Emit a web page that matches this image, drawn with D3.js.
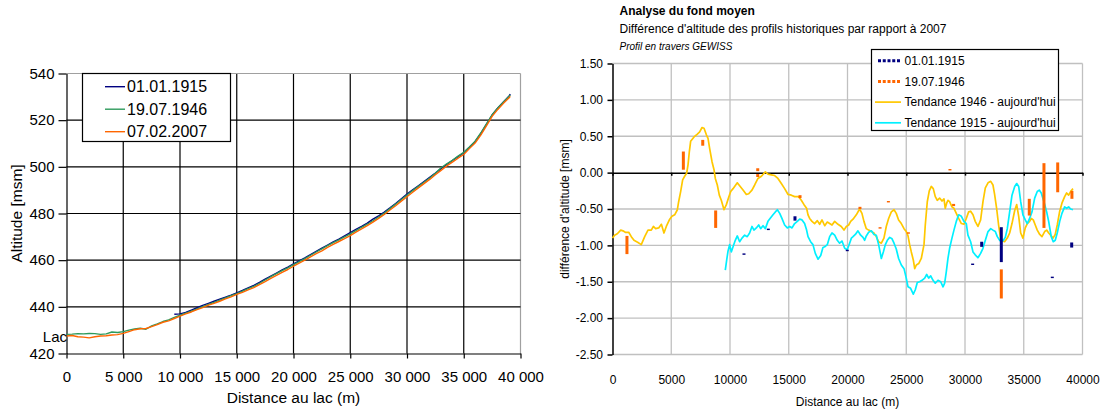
<!DOCTYPE html>
<html><head><meta charset="utf-8">
<script src="https://cdn.jsdelivr.net/npm/d3@7"></script>
<style>body{margin:0;background:#fff}svg{display:block}text{font-family:"Liberation Sans",Arial,sans-serif;fill:#000}</style>
</head><body><svg id="c" width="1101" height="409"></svg>
<script>
// ---------- LEFT CHART DATA (distance m, altitude msm) ----------
const leftXTicks = [0,5000,10000,15000,20000,25000,30000,35000,40000];
const leftYTicks = [420,440,460,480,500,520,540];
const leftLegend = ["01.01.1915","19.07.1946","07.02.2007"];
const alt1915 = [[9500,436.8],[10000,437.0],[10500,437.6],[11000,438.6],[11500,439.6],[12000,440.6],[12500,441.5],[13000,442.4],[13500,443.3],[14000,444.1],[14500,445.0],[15000,446.0],[15500,447.0],[16000,448.1],[16500,449.2],[17000,450.5],[17500,451.9],[18000,453.2],[18500,454.5],[19000,455.8],[19500,457.0],[20000,458.4],[20500,459.7],[21000,461.0],[21500,462.4],[22000,463.8],[22500,465.2],[23000,466.5],[23500,467.8],[24000,469.0],[24500,470.4],[25000,471.8],[25500,473.2],[26000,474.5],[26500,475.9],[27000,477.6],[27500,479.0],[28000,480.6],[28500,482.4],[29000,484.3],[29500,486.3],[30000,488.3],[30500,490.1],[31000,491.9],[31500,493.7],[32000,495.5],[32500,497.3],[33000,499.2],[33500,501.0],[34000,502.7],[34500,504.4],[35000,506.0],[35500,508.4],[36000,510.8],[36500,514.2],[37000,518.2],[37500,522.2],[38000,525.2],[38500,527.8],[39000,530.4],[39100,531.2]];
const alt1946 = [[0,428.2],[500,428.3],[1000,428.5],[1500,428.4],[2000,428.6],[2500,428.5],[3000,428.2],[3500,428.4],[4000,429.2],[4500,429.0],[5000,429.4],[5500,430.0],[6000,430.5],[6500,430.8],[7000,430.4],[7500,431.8],[8000,432.7],[8500,433.7],[9000,434.4],[9500,435.5],[10000,436.4],[10500,437.3],[11000,438.2],[11500,439.1],[12000,440.1],[12500,441.0],[13000,441.9],[13500,442.9],[14000,443.8],[14500,444.8],[15000,445.7],[15500,446.7],[16000,447.8],[16500,448.8],[17000,450.1],[17500,451.5],[18000,452.9],[18500,454.2],[19000,455.5],[19500,456.7],[20000,458.1],[20500,459.4],[21000,460.7],[21500,462.1],[22000,463.5],[22500,464.8],[23000,466.2],[23500,467.5],[24000,468.7],[24500,470.0],[25000,471.3],[25500,472.7],[26000,474.1],[26500,475.4],[27000,476.9],[27500,478.5],[28000,480.2],[28500,482.1],[29000,484.0],[29500,486.0],[30000,487.9],[30500,489.8],[31000,491.6],[31500,493.4],[32000,495.2],[32500,497.2],[33000,499.6],[33500,501.3],[34000,502.8],[34500,504.6],[35000,506.2],[35500,508.5],[36000,511.0],[36500,514.5],[37000,518.4],[37500,522.3],[38000,525.2],[38500,527.8],[39000,530.2],[39100,530.8]];
const alt2007 = [[0,427.5],[500,427.7],[1000,427.2],[1500,427.0],[2000,426.7],[2500,427.2],[3000,427.5],[3500,427.6],[4000,427.9],[4500,428.1],[5000,428.6],[5500,429.4],[6000,430.2],[6500,430.6],[7000,430.7],[7500,431.5],[8000,432.4],[8500,433.4],[9000,434.0],[9500,435.0],[10000,436.0],[10500,437.0],[11000,437.8],[11500,438.8],[12000,439.7],[12500,440.7],[13000,441.5],[13500,442.4],[14000,443.4],[14500,444.3],[15000,445.3],[15500,446.2],[16000,447.3],[16500,448.2],[17000,449.5],[17500,450.8],[18000,452.2],[18500,453.5],[19000,454.8],[19500,456.0],[20000,457.4],[20500,458.7],[21000,460.0],[21500,461.4],[22000,462.8],[22500,464.0],[23000,465.5],[23500,466.8],[24000,468.0],[24500,469.2],[25000,470.5],[25500,472.0],[26000,473.4],[26500,474.8],[27000,476.3],[27500,477.9],[28000,479.6],[28500,481.5],[29000,483.3],[29500,485.3],[30000,487.2],[30500,489.1],[31000,491.0],[31500,492.8],[32000,494.6],[32500,496.6],[33000,498.5],[33500,500.4],[34000,502.0],[34500,503.7],[35000,505.3],[35500,507.8],[36000,510.2],[36500,513.6],[37000,517.6],[37500,521.6],[38000,524.6],[38500,527.2],[39000,529.6],[39100,530.2]];

// ---------- RIGHT CHART DATA (distance m, difference m) ----------
const rightXTicks = [0,5000,10000,15000,20000,25000,30000,35000,40000];
const rightYTicks = [1.5,1.0,0.5,0,-0.5,-1.0,-1.5,-2.0,-2.5];
const rightLegend = ["01.01.1915","19.07.1946","Tendance 1946 - aujourd'hui","Tendance 1915 - aujourd'hui"];
// visible fragments of the historic series: [distance, from, to]
const diff1915 = [[11190,-1.11,-1.13],[13260,-0.77,-0.79],[15530,-0.60,-0.66],[19980,-1.06,-1.08],[30650,-1.25,-1.27],[31420,-0.95,-1.02],[33090,-0.75,-1.23],[37430,-1.43,-1.45],[39080,-0.96,-1.03]];
const diff1946 = [[1230,-0.87,-1.12],[6030,0.29,0.04],[7680,0.45,0.37],[8780,-0.52,-0.76],[12360,0.06,0.02],[12360,-0.02,-0.06],[15960,-0.31,-0.35],[21060,-0.47,-0.50],[22770,-0.75,-0.77],[23480,-0.39,-0.41],[25180,-0.82,-0.84],[28720,0.03,0.05],[29030,-0.43,-0.46],[33090,-1.33,-1.73],[35470,-0.36,-0.59],[36720,0.13,-0.76],[37890,0.14,-0.27],[39100,-0.25,-0.36]];
const trend1946 = [[0,-0.90],[180,-0.86],[410,-0.84],[700,-0.79],[890,-0.80],[1090,-0.82],[1380,-0.82],[1600,-0.88],[1830,-0.93],[2170,-0.96],[2450,-0.99],[2740,-0.88],[3020,-0.79],[3300,-0.79],[3480,-0.74],[3670,-0.77],[3930,-0.76],[4160,-0.71],[4380,-0.83],[4580,-0.74],[4870,-0.64],[5060,-0.60],[5290,-0.58],[5520,-0.51],[5630,-0.40],[5800,-0.26],[5970,-0.10],[6140,-0.05],[6310,-0.01],[6430,0.11],[6540,0.29],[6650,0.43],[6940,0.49],[7220,0.53],[7420,0.56],[7620,0.62],[7790,0.61],[7990,0.52],[8130,0.47],[8270,0.33],[8470,0.15],[8640,0.04],[8750,-0.08],[8920,-0.17],[9090,-0.31],[9260,-0.38],[9490,-0.51],[9690,-0.44],[9890,-0.34],[10060,-0.26],[10260,-0.22],[10620,-0.14],[10820,-0.18],[11110,-0.24],[11390,-0.30],[11590,-0.29],[11870,-0.24],[12100,-0.17],[12380,-0.08],[12670,-0.05],[13010,0.01],[13230,-0.02],[13520,-0.03],[13800,-0.04],[14080,-0.08],[14370,-0.15],[14650,-0.22],[14940,-0.30],[15220,-0.31],[15500,-0.33],[15840,-0.33],[16070,-0.38],[16300,-0.44],[16520,-0.49],[16640,-0.58],[16780,-0.63],[16980,-0.67],[17200,-0.70],[17430,-0.66],[17630,-0.71],[17830,-0.65],[18060,-0.73],[18280,-0.68],[18480,-0.70],[18680,-0.72],[18910,-0.67],[19190,-0.71],[19470,-0.74],[19700,-0.79],[19900,-0.74],[20100,-0.72],[20270,-0.67],[20470,-0.64],[20750,-0.58],[21030,-0.50],[21230,-0.56],[21400,-0.67],[21600,-0.77],[21800,-0.79],[22030,-0.81],[22250,-0.83],[22450,-0.88],[22650,-0.95],[22880,-0.97],[23100,-0.90],[23300,-0.74],[23500,-0.63],[23730,-0.54],[23960,-0.51],[24150,-0.56],[24350,-0.65],[24580,-0.70],[24810,-0.77],[25000,-0.81],[25150,-0.87],[25290,-0.99],[25430,-1.09],[25600,-1.20],[25720,-1.32],[25860,-1.27],[26060,-1.25],[26280,-1.18],[26510,-0.99],[26620,-0.72],[26790,-0.40],[26960,-0.25],[27130,-0.19],[27300,-0.22],[27470,-0.33],[27640,-0.38],[27840,-0.35],[28040,-0.39],[28210,-0.36],[28320,-0.49],[28440,-0.42],[28550,-0.38],[28690,-0.40],[28890,-0.47],[29060,-0.49],[29260,-0.56],[29460,-0.63],[29690,-0.70],[29910,-0.71],[30110,-0.63],[30310,-0.54],[30480,-0.53],[30680,-0.58],[30870,-0.67],[31100,-0.74],[31330,-0.65],[31530,-0.40],[31730,-0.21],[31960,-0.14],[32190,-0.12],[32380,-0.17],[32520,-0.30],[32690,-0.49],[32860,-0.72],[33030,-0.90],[33200,-0.94],[33370,-0.95],[33600,-0.90],[33800,-0.83],[34000,-0.70],[34230,-0.52],[34400,-0.44],[34570,-0.60],[34740,-0.83],[34930,-0.90],[35130,-0.76],[35300,-0.70],[35500,-0.67],[35640,-0.63],[35810,-0.65],[35980,-0.72],[36150,-0.79],[36360,-0.85],[36550,-0.88],[36780,-0.81],[36950,-0.79],[37120,-0.83],[37290,-0.86],[37490,-0.90],[37680,-0.85],[37850,-0.72],[38060,-0.53],[38250,-0.42],[38480,-0.33],[38650,-0.28],[38820,-0.31],[38990,-0.26],[39190,-0.22]];
const trend1915 = [[9600,-1.34],[9720,-1.20],[9830,-1.08],[9970,-0.99],[10110,-1.09],[10260,-1.02],[10450,-0.93],[10620,-0.87],[10820,-0.95],[11020,-0.90],[11250,-0.86],[11470,-0.88],[11670,-0.83],[11870,-0.74],[12040,-0.79],[12240,-0.76],[12440,-0.72],[12610,-0.77],[12810,-0.73],[13010,-0.77],[13230,-0.67],[13460,-0.62],[13660,-0.58],[13860,-0.54],[14030,-0.51],[14230,-0.56],[14420,-0.63],[14650,-0.72],[14880,-0.76],[15080,-0.74],[15280,-0.76],[15500,-0.70],[15730,-0.67],[15930,-0.64],[16130,-0.65],[16350,-0.70],[16520,-0.79],[16640,-0.88],[16860,-0.95],[17060,-0.99],[17260,-1.11],[17490,-1.19],[17720,-1.14],[17910,-1.03],[18060,-1.02],[18280,-0.99],[18480,-0.88],[18680,-0.83],[18910,-0.86],[19130,-0.93],[19330,-0.97],[19530,-0.94],[19760,-1.04],[19980,-1.06],[20180,-0.97],[20330,-0.90],[20470,-0.88],[20670,-0.85],[20890,-0.80],[21120,-0.86],[21320,-0.89],[21460,-0.93],[21600,-0.87],[21800,-0.82],[22030,-0.80],[22250,-0.85],[22450,-0.86],[22650,-0.99],[22880,-1.18],[23050,-1.09],[23220,-0.99],[23390,-0.93],[23590,-0.89],[23790,-0.91],[23960,-0.97],[24150,-1.05],[24350,-1.18],[24580,-1.27],[24810,-1.32],[25000,-1.45],[25150,-1.57],[25370,-1.59],[25600,-1.67],[25770,-1.61],[25940,-1.51],[26140,-1.50],[26340,-1.48],[26570,-1.45],[26740,-1.40],[26910,-1.45],[27080,-1.42],[27280,-1.48],[27470,-1.52],[27700,-1.48],[27930,-1.50],[28130,-1.57],[28270,-1.52],[28410,-1.36],[28550,-1.18],[28690,-1.04],[28890,-0.90],[29060,-0.79],[29260,-0.67],[29460,-0.58],[29690,-0.60],[29910,-0.67],[30110,-0.70],[30250,-0.86],[30480,-0.95],[30680,-1.09],[30870,-1.13],[31100,-1.17],[31330,-1.11],[31530,-1.04],[31730,-0.93],[31960,-0.81],[32190,-0.77],[32380,-0.79],[32580,-0.81],[32750,-0.88],[32950,-0.93],[33090,-0.95],[33260,-0.93],[33430,-0.89],[33600,-0.77],[33800,-0.54],[34000,-0.31],[34230,-0.19],[34400,-0.15],[34570,-0.19],[34740,-0.40],[34930,-0.58],[35130,-0.65],[35300,-0.70],[35500,-0.63],[35700,-0.54],[35930,-0.35],[36150,-0.26],[36320,-0.24],[36490,-0.28],[36720,-0.40],[36950,-0.54],[37120,-0.67],[37340,-0.88],[37510,-0.95],[37680,-0.93],[37850,-0.83],[38060,-0.67],[38250,-0.56],[38480,-0.47],[38650,-0.49],[38820,-0.47],[38990,-0.50],[39190,-0.51]];

// ---------- DRAWING ----------
const svg = d3.select("#c");
svg.append("rect").attr("width",1101).attr("height",409).attr("fill","#fff");

// ===== LEFT =====
const xL = d3.scaleLinear().domain([0,40000]).range([66.5,520.5]);
const yL = d3.scaleLinear().domain([420,540]).range([353.5,73.5]);
const gL = svg.append("g");
leftXTicks.filter(v=>v>0).forEach(v=>{
  gL.append("line").attr("x1",xL(v)).attr("x2",xL(v)).attr("y1",yL(420)).attr("y2",yL(540))
    .attr("stroke", v===40000?"#a0a0a0":"#000").attr("stroke-width",1.2);
});
leftYTicks.filter(v=>v>420).forEach(v=>{
  gL.append("line").attr("x1",xL(0)).attr("x2",xL(40000)).attr("y1",yL(v)).attr("y2",yL(v))
    .attr("stroke", v===540?"#a0a0a0":"#000").attr("stroke-width",1.2);
});
const fmtSp = d => d===0 ? "0" : d3.format(",")(d).replace(/,/g," ");
const axL = gL.append("g").attr("transform",`translate(${xL(0)},0)`)
  .call(d3.axisLeft(yL).tickValues(leftYTicks).tickSize(8).tickSizeOuter(0).tickPadding(4));
const axB = gL.append("g").attr("transform",`translate(0,${yL(420)})`)
  .call(d3.axisBottom(xL).tickValues(leftXTicks).tickSize(5).tickSizeOuter(0).tickPadding(13).tickFormat(fmtSp));
[axL,axB].forEach(a=>{
  a.selectAll("path,line").attr("stroke","#000").attr("stroke-width",1.2);
  a.selectAll("text").attr("font-size",15).attr("font-family","Liberation Sans, Arial, sans-serif");
});
const lineL = d3.line().x(d=>xL(d[0])).y(d=>yL(d[1]));
const leftColors = ["#000080","#2e9a5c","#ff6600"];
[alt1915,alt1946,alt2007].forEach((s,i)=>{
  gL.append("path").datum(s).attr("d",lineL).attr("fill","none")
    .attr("stroke",leftColors[i]).attr("stroke-width",1.4).attr("stroke-linejoin","round");
});
gL.append("text").attr("x",67).attr("y",341.5).attr("text-anchor","end").attr("font-size",15).text("Lac");
gL.append("text").attr("x",(xL(0)+xL(40000))/2).attr("y",403).attr("text-anchor","middle").attr("font-size",15.5).text("Distance au lac (m)");
gL.append("text").attr("transform",`translate(22,${(yL(420)+yL(540))/2}) rotate(-90)`).attr("text-anchor","middle").attr("font-size",15.5).text("Altitude [msm]");
// legend
const lgL = gL.append("g");
lgL.append("rect").attr("x",82.5).attr("y",73.5).attr("width",148).attr("height",68).attr("fill","#fff").attr("stroke","#000").attr("stroke-width",1.2);
leftLegend.forEach((t,i)=>{
  const cy = 86.7 + i*22.5;
  lgL.append("line").attr("x1",105).attr("x2",125).attr("y1",cy).attr("y2",cy).attr("stroke",leftColors[i]).attr("stroke-width",1.4);
  lgL.append("text").attr("x",127).attr("y",cy+5.7).attr("font-size",16).text(t);
});

// ===== RIGHT =====
const xR = d3.scaleLinear().domain([0,40000]).range([612.5,1082.5]);
const yR = d3.scaleLinear().domain([-2.5,1.5]).range([354.5,63.5]);
const gR = svg.append("g");
rightXTicks.filter(v=>v>0).forEach(v=>{
  gR.append("line").attr("x1",xR(v)).attr("x2",xR(v)).attr("y1",yR(-2.5)).attr("y2",yR(1.5))
    .attr("stroke","#c0c0c0").attr("stroke-width",1.3);
});
rightYTicks.filter(v=>v!==0).forEach(v=>{
  gR.append("line").attr("x1",xR(0)).attr("x2",xR(40000)).attr("y1",yR(v)).attr("y2",yR(v))
    .attr("stroke","#c0c0c0").attr("stroke-width",1.3);
});
const axRL = gR.append("g").attr("transform",`translate(${xR(0)},0)`)
  .call(d3.axisLeft(yR).tickValues(rightYTicks).tickSize(5).tickSizeOuter(0).tickPadding(4.5).tickFormat(d=>d.toFixed(2)));
const axRZ = gR.append("g").attr("transform",`translate(0,${yR(0)})`)
  .call(d3.axisBottom(xR).tickValues(rightXTicks).tickSize(3).tickSizeOuter(0).tickFormat(""));
const axRB = gR.append("g").attr("transform",`translate(0,${yR(-2.5)})`)
  .call(d3.axisBottom(xR).tickValues(rightXTicks).tickSize(0).tickPadding(21).tickFormat(d=>String(d)));
axRB.select(".domain").remove();
[axRL,axRZ].forEach(a=>a.selectAll("path,line").attr("stroke","#000").attr("stroke-width",1.5));
[axRL,axRB].forEach(a=>a.selectAll("text").attr("font-size",12).attr("font-family","Liberation Sans, Arial, sans-serif"));

const lineR = d3.line().x(d=>xR(d[0])).y(d=>yR(d[1]));
gR.append("path").datum(trend1946).attr("d",lineR).attr("fill","none").attr("stroke","#ffc800").attr("stroke-width",1.7).attr("stroke-linejoin","round");
gR.append("path").datum(trend1915).attr("d",lineR).attr("fill","none").attr("stroke","#00f0ff").attr("stroke-width",1.7).attr("stroke-linejoin","round");
gR.append("g").selectAll("line").data(diff1946).join("line")
  .attr("x1",d=>xR(d[0])).attr("x2",d=>xR(d[0])).attr("y1",d=>yR(d[1])).attr("y2",d=>yR(d[2]))
  .attr("stroke","#ff6600").attr("stroke-width",3);
gR.append("g").selectAll("line").data(diff1915).join("line")
  .attr("x1",d=>xR(d[0])).attr("x2",d=>xR(d[0])).attr("y1",d=>yR(d[1])).attr("y2",d=>yR(d[2]))
  .attr("stroke","#000080").attr("stroke-width",3);

// titles
gR.append("text").attr("x",619.5).attr("y",15).attr("font-size",12).attr("font-weight","bold").text("Analyse du fond moyen");
gR.append("text").attr("x",619.5).attr("y",33).attr("font-size",12).text("Différence d'altitude des profils historiques par rapport à 2007");
gR.append("text").attr("x",619.5).attr("y",50).attr("font-size",10).attr("font-style","italic").text("Profil en travers GEWISS");
gR.append("text").attr("x",(xR(0)+xR(40000))/2).attr("y",406).attr("text-anchor","middle").attr("font-size",12).text("Distance au lac (m)");
gR.append("text").attr("transform",`translate(569,${(yR(-2.5)+yR(1.5))/2}) rotate(-90)`).attr("text-anchor","middle").attr("font-size",12).text("différence d'altitude [msm]");

// legend
const lgR = gR.append("g");
lgR.append("rect").attr("x",871.5).attr("y",49.5).attr("width",187).attr("height",81).attr("fill","#fff").attr("stroke","#000").attr("stroke-width",1.2);
const rightLegendStyle = [
  {c:"#000080",w:3,dash:"3,1.75",x1:878,x2:900},
  {c:"#ff6600",w:3,dash:"3,1.75",x1:878,x2:900},
  {c:"#ffc800",w:1.7,dash:null,x1:875,x2:901},
  {c:"#00f0ff",w:1.7,dash:null,x1:875,x2:901}
];
rightLegend.forEach((t,i)=>{
  const cy = 60.7 + i*20.7, st = rightLegendStyle[i];
  lgR.append("line").attr("x1",st.x1).attr("x2",st.x2).attr("y1",cy).attr("y2",cy)
    .attr("stroke",st.c).attr("stroke-width",st.w).attr("stroke-dasharray",st.dash);
  lgR.append("text").attr("x",904.5).attr("y",cy+4.3).attr("font-size",12).text(t);
});
</script></body></html>
